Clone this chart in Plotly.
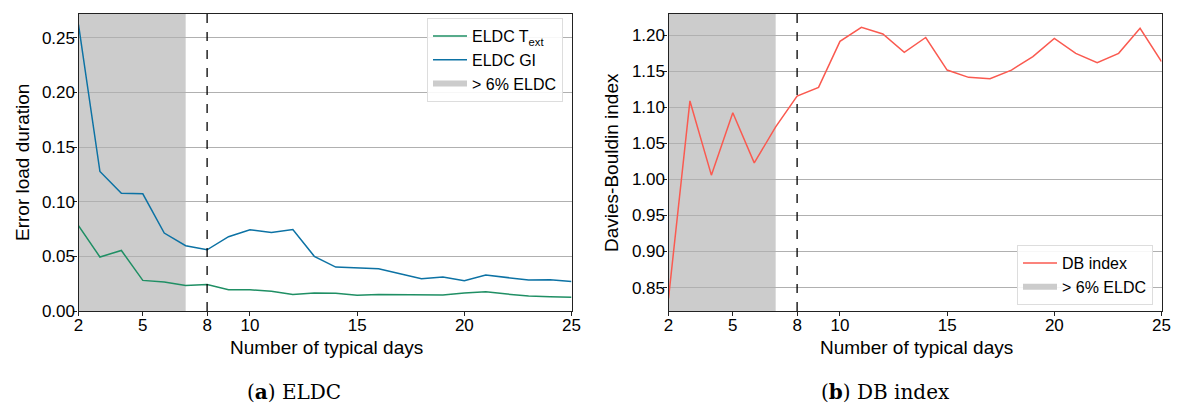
import plotly.graph_objects as go

days = list(range(2, 26))
eldc_text = [0.078, 0.0494, 0.0554, 0.028, 0.0265, 0.0234, 0.0243, 0.0195, 0.0195, 0.018, 0.015,
             0.0165, 0.0162, 0.0143, 0.0152, 0.0152, 0.0149, 0.0146, 0.0165, 0.0177, 0.0155,
             0.0137, 0.0131, 0.0125]
eldc_gi = [0.262, 0.1276, 0.1078, 0.1072, 0.0713, 0.0597, 0.056, 0.068, 0.0743, 0.0719, 0.0746,
           0.050, 0.0402, 0.0396, 0.0387, 0.0341, 0.0295, 0.031, 0.0277, 0.0329, 0.0307,
           0.0283, 0.0286, 0.0271]
db_index = [0.835, 1.109, 1.006, 1.0925, 1.023, 1.073, 1.1157, 1.1278, 1.1917, 1.211, 1.2018,
            1.1764, 1.197, 1.1518, 1.1417, 1.1397, 1.1518, 1.1704, 1.1958, 1.175, 1.162,
            1.175, 1.2097, 1.1635]
shade_range = [2, 7]
chosen_days = 8
x_ticks = [2, 5, 8, 10, 15, 20, 25]
y1_ticks = [0.00, 0.05, 0.10, 0.15, 0.20, 0.25]
y2_ticks = [0.85, 0.90, 0.95, 1.00, 1.05, 1.10, 1.15, 1.20]

GREEN = "#1f8f64"
BLUE = "#0c72a4"
RED = "#fa5a50"
SHADE = "#cccccc"
FONT = "Liberation Sans, Arial, sans-serif"
SERIF = "DejaVu Serif, serif"
W, H = 1178, 409

fig = go.Figure()

fig.add_trace(go.Scatter(x=days, y=eldc_text, mode="lines", name="ELDC T<sub>ext</sub>",
                         line=dict(color=GREEN, width=1.5), xaxis="x", yaxis="y", legend="legend"))
fig.add_trace(go.Scatter(x=days, y=eldc_gi, mode="lines", name="ELDC GI",
                         line=dict(color=BLUE, width=1.5), xaxis="x", yaxis="y", legend="legend"))
fig.add_trace(go.Scatter(x=[None], y=[None], mode="none", fill="toself", fillcolor=SHADE,
                         name="> 6% ELDC", xaxis="x", yaxis="y", legend="legend"))
fig.add_trace(go.Scatter(x=days, y=db_index, mode="lines", name="DB index",
                         line=dict(color=RED, width=1.5), xaxis="x2", yaxis="y2", legend="legend2"))
fig.add_trace(go.Scatter(x=[None], y=[None], mode="none", fill="toself", fillcolor=SHADE,
                         name="> 6% ELDC", xaxis="x2", yaxis="y2", legend="legend2"))

for xr, yr in (("x", "y"), ("x2", "y2")):
    fig.add_shape(type="rect", x0=shade_range[0], x1=shade_range[1], xref=xr, yref=yr + " domain",
                  y0=0, y1=1, fillcolor=SHADE, line_width=0, layer="below")
    fig.add_shape(type="line", x0=chosen_days, x1=chosen_days, xref=xr, yref=yr + " domain",
                  y0=0, y1=1, line=dict(color="black", width=1.3, dash="dash"))

axis_common = dict(showline=True, linecolor="#222222", linewidth=1.2, mirror=True,
                   ticks="outside", ticklen=4, tickcolor="#222222", automargin=False,
                   tickfont=dict(family=FONT, size=17, color="black"), zeroline=False)
ydom = [1 - 311 / H, 1 - 14 / H]
x1dom = [78.5 / W, 571.5 / W]
x2dom = [668.5 / W, 1161.5 / W]

title_font = dict(family=FONT, size=19, color="black")

fig.update_layout(
    width=W, height=H,
    margin=dict(l=0, r=0, t=0, b=0),
    paper_bgcolor="white", plot_bgcolor="white",
    showlegend=True,
    xaxis=dict(domain=x1dom, range=[2, 25], tickvals=x_ticks, showgrid=False,
               ticklabelstandoff=-6, anchor="y", **axis_common),
    yaxis=dict(domain=ydom, range=[0, 0.2717], tickvals=y1_ticks, tickformat=".2f",
               ticklabelstandoff=-5,
               showgrid=True, gridcolor="#b0b0b0", gridwidth=1, anchor="x", **axis_common),
    xaxis2=dict(domain=x2dom, range=[2, 25], tickvals=x_ticks, showgrid=False,
                ticklabelstandoff=-6, anchor="y2", **axis_common),
    yaxis2=dict(domain=ydom, range=[0.8175, 1.2296], tickvals=y2_ticks, tickformat=".2f",
                ticklabelstandoff=-5,
                showgrid=True, gridcolor="#b0b0b0", gridwidth=1, anchor="x2", **axis_common),
    legend=dict(x=563 / W, y=1 - 18 / H, xanchor="right", yanchor="top",
                bgcolor="rgba(255,255,255,0.9)", bordercolor="#dddddd", borderwidth=1,
                font=dict(family=FONT, size=16, color="black"), tracegroupgap=0,
                itemwidth=34),
    legend2=dict(x=1153 / W, y=1 - 305 / H, xanchor="right", yanchor="bottom",
                 bgcolor="rgba(255,255,255,0.9)", bordercolor="#dddddd", borderwidth=1,
                 font=dict(family=FONT, size=16, color="black"), tracegroupgap=0,
                 itemwidth=34),
    annotations=[
        dict(text="Number of typical days", x=326 / W, y=1 - 347 / H, xref="paper", yref="paper",
             xanchor="center", yanchor="middle", showarrow=False, font=title_font),
        dict(text="Number of typical days", x=916 / W, y=1 - 347 / H, xref="paper", yref="paper",
             xanchor="center", yanchor="middle", showarrow=False, font=title_font),
        dict(text="Error load duration", x=22 / W, y=1 - 163 / H, xref="paper", yref="paper",
             xanchor="center", yanchor="middle", showarrow=False, textangle=-90, font=title_font),
        dict(text="Davies-Bouldin index", x=611 / W, y=1 - 163 / H, xref="paper", yref="paper",
             xanchor="center", yanchor="middle", showarrow=False, textangle=-90, font=title_font),
        dict(text="(<b>a</b>) ELDC", x=293.5 / W, y=1 - 392 / H, xref="paper", yref="paper",
             xanchor="center", yanchor="middle", showarrow=False,
             font=dict(family=SERIF, size=20, color="black")),
        dict(text="(<b>b</b>) DB index", x=885.5 / W, y=1 - 392 / H, xref="paper", yref="paper",
             xanchor="center", yanchor="middle", showarrow=False,
             font=dict(family=SERIF, size=20, color="black")),
    ],
)

fig.write_html("out.html", config={"displayModeBar": False},
               post_script="document.body.style.margin='0';")
